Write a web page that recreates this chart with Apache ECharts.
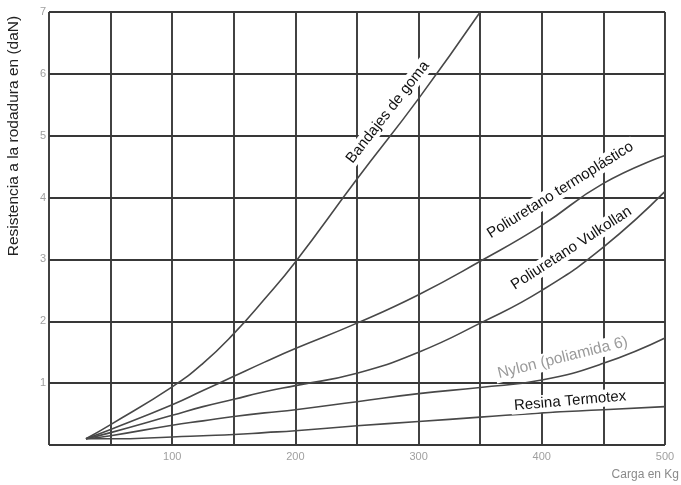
<!DOCTYPE html>
<html>
<head>
<meta charset="utf-8">
<script src="https://cdn.jsdelivr.net/npm/echarts@6/dist/echarts.min.js"></script>
<style>
html,body{margin:0;padding:0;background:#fff;}
#c{width:681px;height:485px;}
</style>
</head>
<body>
<div id="c"></div>
<script>
// ---- data ----
const xLoad = [30, 50, 100, 125, 150, 175, 200, 250, 300, 350, 400, 450, 500];
const bandajes = [0.1, 0.33, 0.94, 1.32, 1.8, 2.36, 2.96, 4.3, 5.6, 7.0];
const termoplastico = [0.1, 0.25, 0.65, 0.88, 1.11, 1.34, 1.56, 1.97, 2.43, 2.97, 3.55, 4.23, 4.68];
const vulkollan = [0.1, 0.2, 0.48, 0.62, 0.74, 0.86, 0.96, 1.16, 1.5, 1.97, 2.5, 3.2, 4.1];
const nylon = [0.1, 0.15, 0.32, 0.39, 0.46, 0.52, 0.57, 0.7, 0.83, 0.93, 1.05, 1.32, 1.73];
const resina = [0.1, 0.1, 0.13, 0.15, 0.17, 0.2, 0.23, 0.31, 0.38, 0.45, 0.52, 0.57, 0.62];
const seriesNames = ['Bandajes de goma', 'Poliuretano termoplástico', 'Poliuretano Vulkollan', 'Nylon (poliamida 6)', 'Resina Termotex'];
const seriesValues = [bandajes, termoplastico, vulkollan, nylon, resina];
const xTicks = [100, 200, 300, 400, 500];
const yTicks = [1, 2, 3, 4, 5, 6, 7];
const yTitle = 'Resistencia a la rodadura en (daN)';
const xTitle = 'Carga en Kg';

// label placement (data coords of the label centre, angle in degrees)
const labelPlace = [
  {at: [275, 5.38], angle: 52, color: '#111', size: 15},
  {at: [415, 4.12], angle: 32, color: '#111', size: 15},
  {at: [424, 3.18], angle: 33, color: '#111', size: 15},
  {at: [417, 1.41], angle: 14, color: '#9a9a9a', size: 15.5},
  {at: [423, 0.71], angle: 5, color: '#111', size: 15}
];

const chart = echarts.init(document.getElementById('c'), null, {renderer: 'canvas'});
const gridColor = '#383838';
const FF = '"Liberation Sans", Arial, sans-serif';
const option = {
  backgroundColor: '#fff',
  animation: false,
  grid: {left: 49, right: 16, top: 12, bottom: 40, containLabel: false, outerBoundsMode: 'none'},
  xAxis: {
    type: 'value', min: 0, max: 500, interval: 50,
    axisLine: {show: false}, axisTick: {show: false},
    splitLine: {show: true, lineStyle: {color: gridColor, width: 1.9}},
    axisLabel: {
      color: '#a0a0a0', fontSize: 11, fontFamily: FF, margin: 6,
      formatter: v => xTicks.indexOf(v) >= 0 ? String(v) : ''
    }
  },
  yAxis: {
    type: 'value', min: 0, max: 7, interval: 1,
    axisLine: {show: false}, axisTick: {show: false},
    splitLine: {show: true, lineStyle: {color: gridColor, width: 1.9}},
    axisLabel: {
      color: '#a0a0a0', fontSize: 11, fontFamily: FF, margin: 3,
      formatter: v => yTicks.indexOf(v) >= 0 ? String(v) : ''
    }
  },
  series: seriesValues.map((vals, i) => ({
    name: seriesNames[i],
    type: 'line',
    smooth: 0.5,
    showSymbol: false,
    lineStyle: {color: '#484848', width: 1.6},
    data: vals.map((v, j) => [xLoad[j], v]),
    z: 3
  }))
};
chart.setOption(option);

const graphics = labelPlace.map((p, i) => {
  const px = chart.convertToPixel({gridIndex: 0}, p.at);
  return {
    type: 'text', x: px[0], y: px[1], rotation: p.angle * Math.PI / 180, z: 10,
    style: {
      text: seriesNames[i], fill: p.color, backgroundColor: '#fff', padding: [1, 3],
      font: p.size + 'px ' + FF,
      align: 'center', verticalAlign: 'middle'
    }
  };
});
graphics.push({
  type: 'text', x: 14, y: 136, rotation: Math.PI / 2, z: 10,
  style: {text: yTitle, fill: '#222', font: '15.5px ' + FF, align: 'center', verticalAlign: 'middle'}
});
graphics.push({
  type: 'text', right: 2, bottom: 4, z: 10,
  style: {text: xTitle, fill: '#8a8a8a', font: '12px ' + FF}
});
chart.setOption({graphic: graphics});
</script>
</body>
</html>
